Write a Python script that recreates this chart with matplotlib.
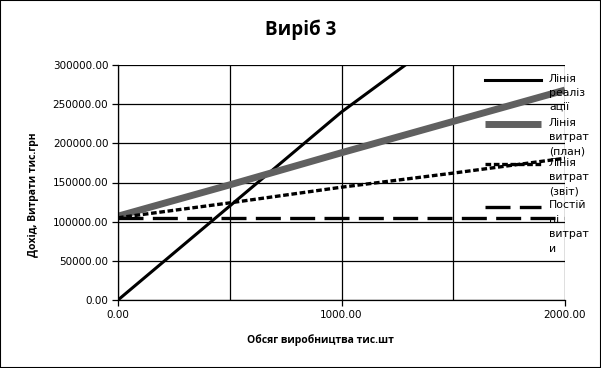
import matplotlib
matplotlib.use("Agg")
import matplotlib.pyplot as plt
from matplotlib.lines import Line2D
from matplotlib.patches import Rectangle
from matplotlib.ticker import MultipleLocator, FormatStrFormatter

# ---- data ----
volume = [0, 500, 1000, 1500, 2000]
revenue = [0, 120000, 240000, 345000, 450000]
cost_plan = [107000, 147000, 188000, 228000, 268000]
cost_report = [105000, 124000, 144000, 162000, 181000]
fixed_cost = [105000, 105000, 105000, 105000, 105000]

labels = ["Лінія\nреаліз\nації", "Лінія\nвитрат\n(план)", "Лінія\nвитрат\n(звіт)", "Постій\nні\nвитрат\nи"]
title = "Виріб 3"
xlabel = "Обсяг виробництва тис.шт"
ylabel = "Дохід, Витрати тис.грн"

plt.rcParams['font.family'] = ['DejaVu Sans']

fig = plt.figure(figsize=(6.01, 3.68), dpi=100)
ax = fig.add_axes([118/601, 1-300/368, (565-118)/601, (300-65)/368])

styles = [
    dict(color='black', lw=2.2, ls='-'),
    dict(color='#606060', lw=5.0, ls='-', solid_capstyle='butt'),
    dict(color='black', lw=2.4, ls=(0, (1.7, 0.8))),
    dict(color='black', lw=2.4, ls=(0, (7.5, 2.8))),
]
series = [revenue, cost_plan, cost_report, fixed_cost]
for s, st in zip(series, styles):
    ax.plot(volume, s, clip_on=True, **st)

ax.set_xlim(0, 2000)
ax.set_ylim(0, 300000)
ax.xaxis.set_major_locator(MultipleLocator(1000))
ax.xaxis.set_minor_locator(MultipleLocator(500))
ax.yaxis.set_major_locator(MultipleLocator(50000))
ax.xaxis.set_major_formatter(FormatStrFormatter('%.2f'))
ax.yaxis.set_major_formatter(FormatStrFormatter('%.2f'))
ax.grid(True, which='both', color='black', lw=0.9)
ax.tick_params(which='major', direction='out', length=4, width=0.9, labelsize=7.5, pad=3)
ax.tick_params(which='minor', length=0)
for sp in ['top', 'right']:
    ax.spines[sp].set_visible(False)
for sp in ['left', 'bottom']:
    ax.spines[sp].set_linewidth(0.9)
ax.set_axisbelow(True)

lab_font = ['Open Sans', 'DejaVu Sans']
fig.text(320/601, 1-340/368, xlabel, ha='center', va='center', fontsize=7.5, fontweight='bold', family=lab_font)
fig.text(33/601, 1-195/368, ylabel, ha='center', va='center', rotation=90, fontsize=7.5, fontweight='bold', family=lab_font)
fig.text(0.5, 1-30/368, title, ha='center', va='center', fontsize=13.5, fontweight='bold', family=lab_font)

# legend drawn manually (Excel-like: handle aligned with first text line)
leg_y = [80, 124, 164, 207]
for yy, st, lab in zip(leg_y, styles, labels):
    fig.add_artist(Line2D([485/601, 541/601], [1-yy/368, 1-yy/368], transform=fig.transFigure, **st))
    fig.text(549/601, 1-(yy-6.5)/368, lab, ha='left', va='top', fontsize=7.8, linespacing=1.55, color='black')

fig.add_artist(Rectangle((0, 0), 1, 1, transform=fig.transFigure, fill=False, edgecolor='black', lw=1.5))
fig.savefig('out.png', dpi=100)
